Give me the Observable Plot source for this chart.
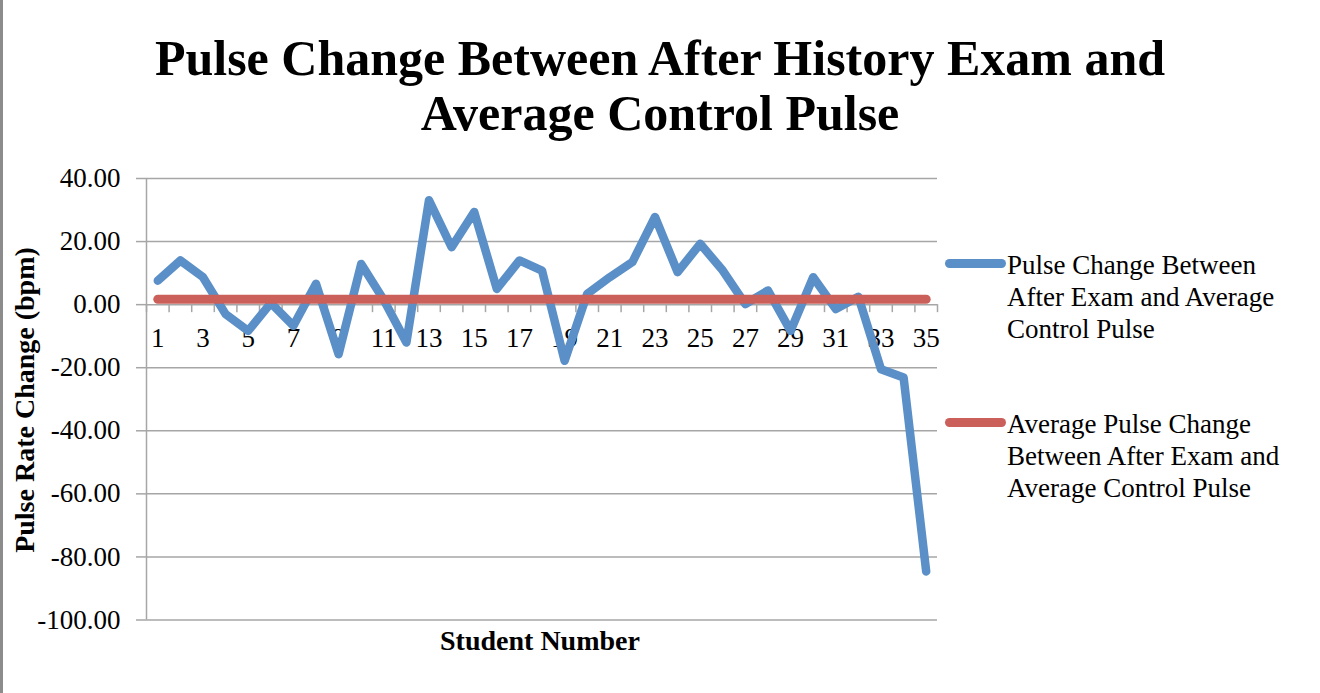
<!DOCTYPE html>
<html><head><meta charset="utf-8">
<script src="https://cdn.jsdelivr.net/npm/d3@7"></script>
<script src="https://cdn.jsdelivr.net/npm/@observablehq/plot@0.6"></script>
<style>
html,body{margin:0;padding:0;background:#fff;}
#wrap{position:relative;width:1320px;height:693px;overflow:hidden;font-family:"Liberation Serif",serif;color:#000;background:#fff;}
#frame{position:absolute;left:0;top:0;width:3px;height:693px;background:#8c8c8c;}
#title{position:absolute;left:0;width:1320px;top:31px;text-align:center;font-weight:bold;font-size:50px;line-height:55px;}
#chart{position:absolute;left:0;top:150px;}
#ytitle{position:absolute;left:-175px;top:385px;width:400px;height:30px;line-height:30px;text-align:center;font-weight:bold;font-size:28px;transform:rotate(-90deg);white-space:nowrap;}
#xtitle{position:absolute;left:340px;top:626px;width:400px;line-height:30px;text-align:center;font-weight:bold;font-size:28px;white-space:nowrap;}
.sw{position:absolute;left:945px;width:61px;height:9px;border-radius:4.5px;}
.lt{position:absolute;left:1007px;font-size:27px;line-height:32px;white-space:nowrap;}
</style>
</head><body>
<div id="wrap">
  <div id="frame"></div>
  <div id="title">Pulse Change Between After History Exam and<br>Average Control Pulse</div>
  <div id="chart"></div>
  <div id="ytitle">Pulse Rate Change (bpm)</div>
  <div id="xtitle">Student Number</div>
  <div class="sw" id="sw1" style="top:258.5px;"></div>
  <div class="lt" id="lt1" style="top:249px;"></div>
  <div class="sw" id="sw2" style="top:417.5px;"></div>
  <div class="lt" id="lt2" style="top:408px;"></div>
</div>
<script>
// ---- data ----
const students = [1,2,3,4,5,6,7,8,9,10,11,12,13,14,15,16,17,18,19,20,21,22,23,24,25,26,27,28,29,30,31,32,33,34,35];
const pulseChange = [7.6,14.0,8.7,-3.0,-8.3,0.5,-6.7,6.6,-15.7,12.9,1.5,-12.0,33.1,18.2,29.4,5.0,14.0,10.8,-17.8,3.4,8.7,13.5,27.8,10.3,19.3,10.8,0.2,4.5,-8.3,8.7,-1.4,2.5,-20.5,-23.1,-84.6];
const averageChange = 1.7;
const yTicks = [-100,-80,-60,-40,-20,0,20,40];
const xTickLabels = [1,3,5,7,9,11,13,15,17,19,21,23,25,27,29,31,33,35];
const seriesNames = ["Pulse Change Between\nAfter Exam and Average\nControl Pulse", "Average Pulse Change\nBetween After Exam and\nAverage Control Pulse"];
const seriesColors = ["#5b8fc7", "#cb605a"];

// ---- derived tables ----
const seriesData = students.map((s, i) => ({student: s, change: pulseChange[i]}));
const avgData = students.map(s => ({student: s, change: averageChange}));
const xBoundaries = students.map(s => s - 0.5).concat([students[students.length - 1] + 0.5]);
const gridColor = "#a6a6a6";

const chart = Plot.plot({
  width: 1320,
  height: 520,
  marginLeft: 146,
  marginRight: 383,
  marginTop: 28,
  marginBottom: 50.5,
  style: {fontFamily: "Liberation Serif", fontSize: "27px", background: "transparent", color: "#000", overflow: "visible"},
  x: {domain: [xBoundaries[0], xBoundaries[xBoundaries.length - 1]], axis: null},
  y: {domain: [yTicks[0], yTicks[yTicks.length - 1]], axis: null},
  marks: [
    Plot.gridY(yTicks, {stroke: gridColor, strokeOpacity: 1, strokeWidth: 1.5}),
    Plot.ruleX([xBoundaries[0]], {stroke: gridColor, strokeWidth: 1.5}),
    Plot.axisY(yTicks, {tickSize: 10, tickFormat: () => "", stroke: gridColor, strokeWidth: 1.5, label: null}),
    Plot.axisY(yTicks, {tickSize: 0, tickPadding: 26, tickFormat: d => d.toFixed(2), fontSize: 27, label: null}),
    Plot.ruleX(xBoundaries, {y1: 0, y2: 0, insetBottom: -8, stroke: gridColor, strokeWidth: 1.5}),
    Plot.text(xTickLabels, {x: d => d, y: 0, dy: 34, text: d => String(d), fontSize: 27, fill: "#000"}),
    Plot.line(seriesData, {x: "student", y: "change", stroke: seriesColors[0], strokeWidth: 8.5, strokeLinejoin: "round", strokeLinecap: "round"}),
    Plot.line(avgData, {x: "student", y: "change", stroke: seriesColors[1], strokeWidth: 9, strokeLinejoin: "round", strokeLinecap: "round"})
  ]
});
document.getElementById("chart").appendChild(chart);

document.getElementById("sw1").style.background = seriesColors[0];
document.getElementById("sw2").style.background = seriesColors[1];
document.getElementById("lt1").innerHTML = seriesNames[0].split("\n").join("<br>");
document.getElementById("lt2").innerHTML = seriesNames[1].split("\n").join("<br>");
</script>
</body></html>
